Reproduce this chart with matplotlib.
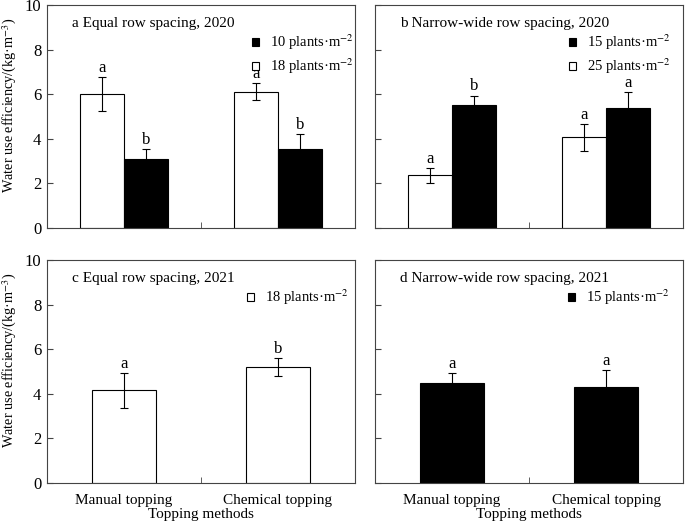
import numpy as np
import matplotlib
matplotlib.use("Agg")
import matplotlib.pyplot as plt
from matplotlib.patches import Patch

plt.rcParams["font.family"] = ["Liberation Serif", "DejaVu Serif"]
plt.rcParams["mathtext.fontset"] = "stix"
plt.rcParams["font.size"] = 11

categories = ["Manual topping", "Chemical topping"]

# panel a: equal row spacing 2020
a_black = [3.08, 3.53]
a_black_err = [0.45, 0.70]
a_white = [6.00, 6.11]
a_white_err = [0.75, 0.38]
a_black_sig = ["b", "b"]
a_white_sig = ["a", "a"]

# panel b: narrow-wide row spacing 2020
b_black = [5.52, 5.36]
b_black_err = [0.42, 0.72]
b_white = [2.36, 4.07]
b_white_err = [0.32, 0.60]
b_black_sig = ["b", "a"]
b_white_sig = ["a", "a"]

# panel c: equal row spacing 2021
c_white = [4.15, 5.22]
c_white_err = [0.77, 0.40]
c_white_sig = ["a", "b"]

# panel d: narrow-wide row spacing 2021
d_black = [4.50, 4.30]
d_black_err = [0.45, 0.75]
d_black_sig = ["a", "a"]

W, H = 685, 527
fig = plt.figure(figsize=(W / 100, H / 100), dpi=100)


def make_ax(x0, y0, x1, y1):
    return fig.add_axes([x0 / W, 1 - y1 / H, (x1 - x0) / W, (y1 - y0) / H])


def bars(ax, pos, vals, errs, sig, color, width):
    ax.bar(pos, vals, width, color=color, edgecolor="black", linewidth=0.8, zorder=2)
    ax.errorbar(pos, vals, yerr=errs, fmt="none", ecolor="black", elinewidth=0.8,
                capsize=2.7, capthick=0.8, zorder=3)
    for p, v, e, s in zip(pos, vals, errs, sig):
        ax.text(p, v + e + 0.05, s, ha="center", va="bottom", fontsize=12)


def style(ax, title, ylabels, xlabels):
    ax.set_xlim(-0.5, 1.5)
    ax.set_ylim(0, 10)
    ax.set_yticks(np.arange(0, 11, 2))
    ax.set_xticks([0, 1])
    ax.set_xticks([0.5], minor=True)
    ax.tick_params(axis="x", which="major", length=0, pad=8)
    ax.tick_params(axis="x", which="minor", direction="in", length=4, color="#444444")
    ax.tick_params(axis="y", direction="in", length=4, pad=4, color="#444444")
    if xlabels:
        ax.set_xticklabels(categories, fontsize=11)
        ax.set_xlabel("Topping methods", fontsize=11)
        ax.xaxis.set_label_coords(0.5, -0.11)
    else:
        ax.set_xticklabels([])
    if ylabels:
        ax.set_yticklabels([str(v) for v in range(0, 11, 2)], fontsize=12)
        ax.set_ylabel("Water use efficiency/(kg·m$^{-3}$)", fontsize=10.3)
        ax.yaxis.set_label_coords(-0.092, 0.55)
    else:
        ax.set_yticklabels([])
    for s in ax.spines.values():
        s.set_linewidth(0.8)
        s.set_color("#444444")
    ax.text(0.081, 0.919, title, transform=ax.transAxes, ha="left", va="center", fontsize=11)


def legend(ax, items, x0):
    handles = [Patch(facecolor=c, edgecolor="black", linewidth=0.8) for c, _ in items]
    labels = [l for _, l in items]
    ax.legend(handles, labels, loc="upper left", bbox_to_anchor=(x0, 0.875), frameon=False,
              handlelength=0.5, handleheight=0.5, handletextpad=0.75, labelspacing=0.3,
              fontsize=10.5, borderpad=0, borderaxespad=0)


x = np.arange(len(categories))
bw = 0.286

ax_a = make_ax(47, 5, 355, 228)
bars(ax_a, x - bw / 2, a_white, a_white_err, a_white_sig, "white", bw)
bars(ax_a, x + bw / 2, a_black, a_black_err, a_black_sig, "black", bw)
style(ax_a, "a Equal row spacing, 2020", True, False)
legend(ax_a, [("black", "10 plants·m$^{-2}$"), ("white", "18 plants·m$^{-2}$")], 0.665)

ax_b = make_ax(375, 5, 683, 228)
bars(ax_b, x - bw / 2, b_white, b_white_err, b_white_sig, "white", bw)
bars(ax_b, x + bw / 2, b_black, b_black_err, b_black_sig, "black", bw)
style(ax_b, "b Narrow-wide row spacing, 2020", False, False)
legend(ax_b, [("black", "15 plants·m$^{-2}$"), ("white", "25 plants·m$^{-2}$")], 0.63)

sw = 0.41
ax_c = make_ax(47, 260, 355, 483)
bars(ax_c, x, c_white, c_white_err, c_white_sig, "white", sw)
style(ax_c, "c Equal row spacing, 2021", True, True)
legend(ax_c, [("white", "18 plants·m$^{-2}$")], 0.65)

ax_d = make_ax(375, 260, 683, 483)
bars(ax_d, x, d_black, d_black_err, d_black_sig, "black", sw)
style(ax_d, "d Narrow-wide row spacing, 2021", False, True)
legend(ax_d, [("black", "15 plants·m$^{-2}$")], 0.625)

fig.savefig("out.png", dpi=100)
